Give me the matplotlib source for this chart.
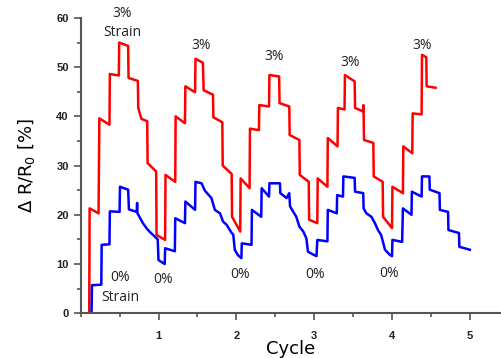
import matplotlib.pyplot as plt
from matplotlib.ticker import MultipleLocator

# red: 3% strain trace, blue: 0% strain trace
red_cycle = [0.00, 0.11, 0.115, 0.23, 0.24, 0.37, 0.375, 0.49, 0.495, 0.61,
             0.615, 0.735, 0.74, 0.78, 0.855, 0.86, 0.97, 0.975, 1.085,
             1.09, 1.215, 1.22, 1.34, 1.345, 1.47, 1.475, 1.57, 1.58, 1.70,
             1.705, 1.82, 1.825, 1.94, 1.945, 2.05, 2.055, 2.17, 2.175, 2.29,
             2.295, 2.42, 2.425, 2.55, 2.555, 2.68, 2.685, 2.81, 2.815, 2.93,
             2.935, 3.04, 3.045, 3.17, 3.175, 3.30, 3.305, 3.39, 3.395, 3.52,
             3.525, 3.63, 3.633, 3.64, 3.76, 3.765, 3.88, 3.885, 4.00,
             4.005, 4.14, 4.145, 4.26, 4.265, 4.38, 4.385, 4.44, 4.445, 4.56]
red_dr = [0.0, 0.0, 21.3, 20.3, 39.6, 38.3, 48.6, 48.3, 55.0, 54.3,
          47.8, 47.2, 41.7, 39.5, 39.0, 30.5, 28.8, 15.9, 14.9,
          28.1, 26.7, 40.0, 38.6, 46.1, 44.9, 51.7, 50.9, 45.3, 44.4,
          39.8, 38.8, 30.0, 28.3, 19.6, 16.6, 27.4, 25.4, 37.5, 37.2,
          42.3, 42.0, 48.4, 48.1, 42.7, 42.0, 36.2, 35.2, 28.1, 26.7,
          19.0, 18.3, 27.4, 25.7, 35.6, 33.9, 41.7, 41.4, 48.4, 47.1,
          41.7, 41.0, 42.3, 35.2, 34.6, 27.8, 26.7, 19.6, 17.3,
          25.7, 24.4, 33.9, 32.5, 40.6, 40.4, 52.5, 52.0, 46.1, 45.8]

blue_cycle = [0.14, 0.145, 0.265, 0.27, 0.37, 0.375, 0.50, 0.505, 0.61,
              0.62, 0.72, 0.725, 0.73, 0.80, 0.85, 0.89, 0.95, 0.99,
              1.00, 1.08, 1.085, 1.21,
              1.215, 1.34, 1.345, 1.47, 1.475, 1.553, 1.596, 1.68, 1.724,
              1.79, 1.83, 1.874, 1.94, 1.96, 1.98, 2.02, 2.065,
              2.07, 2.195, 2.20, 2.32, 2.325, 2.42, 2.425, 2.56, 2.565,
              2.645, 2.68, 2.69, 2.77, 2.81, 2.86, 2.90, 2.92, 2.99, 3.03,
              3.04, 3.17, 3.175, 3.29, 3.295, 3.37, 3.375, 3.52, 3.525,
              3.63, 3.635, 3.67, 3.735, 3.78, 3.82, 3.86, 3.91, 3.97, 4.00,
              4.005, 4.13, 4.14, 4.25, 4.255, 4.38, 4.385, 4.48, 4.485,
              4.61, 4.615, 4.72, 4.725, 4.86, 4.865, 5.00]
blue_dr = [0.0, 5.7, 5.8, 13.9, 14.0, 20.7, 20.6, 25.7, 25.1,
           21.1, 20.6, 22.4, 20.3, 18.3, 17.2, 16.5, 15.6, 15.0,
           10.8, 10.0, 13.2, 12.6,
           19.3, 18.3, 22.7, 21.0, 26.7, 26.4, 24.9, 23.4, 21.0,
           20.3, 18.6, 18.0, 16.3, 16.0, 12.9, 11.8, 11.2,
           14.2, 13.9, 21.0, 19.6, 25.4, 23.7, 26.4, 26.4, 24.4,
           23.4, 24.4, 21.7, 19.6, 17.6, 16.6, 15.2, 12.5, 11.9, 11.6,
           14.9, 14.6, 21.0, 20.3, 24.0, 23.7, 27.8, 27.5, 24.7,
           24.4, 21.3, 20.3, 19.6, 18.3, 16.9, 15.9, 12.9, 11.9, 11.6,
           14.9, 14.5, 21.3, 20.0, 24.7, 23.7, 27.8, 27.8, 25.1,
           24.4, 21.0, 20.6, 16.9, 16.3, 13.5, 12.9]

# strain labels
top_x = [0.53, 1.55, 2.49, 3.46, 4.39]
top_y = [60.8, 54.3, 52.2, 50.9, 54.3]
bottom_x = [0.51, 1.06, 2.045, 3.01, 3.96]
bottom_y = [7.2, 6.8, 7.9, 7.8, 8.1]

fig = plt.figure(figsize=(5.01, 3.58), dpi=100)
ax = fig.add_axes([0.161, 0.125, 0.839, 0.825])

ax.plot(red_cycle, red_dr, color='#ff0000', lw=1.8)
ax.plot(blue_cycle, blue_dr, color='#0000ff', lw=1.8)

for x, y in zip(top_x, top_y):
    ax.text(x, y, '3%', ha='center', va='center', fontsize=10,
            family='Open Sans', color='#222222')
ax.text(top_x[0], 57.0, 'Strain', ha='center', va='center', fontsize=10,
        family='Open Sans', color='#222222')
for x, y in zip(bottom_x, bottom_y):
    ax.text(x, y, '0%', ha='center', va='center', fontsize=10,
            family='Open Sans', color='#222222')
ax.text(bottom_x[0], 3.25, 'Strain', ha='center', va='center', fontsize=10,
        family='Open Sans', color='#222222')

ax.set_xlim(0, 5.4)
ax.set_ylim(0, 60)
ax.xaxis.set_major_locator(MultipleLocator(1))
ax.xaxis.set_minor_locator(MultipleLocator(0.5))
ax.yaxis.set_major_locator(MultipleLocator(10))
ax.yaxis.set_minor_locator(MultipleLocator(5))
ax.set_xticks([1, 2, 3, 4, 5])

for s in ['top', 'right']:
    ax.spines[s].set_visible(False)
for s in ['left', 'bottom']:
    ax.spines[s].set_color('#555555')
    ax.spines[s].set_linewidth(1.5)

ax.tick_params(which='both', direction='out', color='#555555', width=1.2)
ax.tick_params(which='major', length=5, labelsize=8, labelcolor='#222222')
ax.tick_params(which='minor', length=3)
ax.tick_params(axis='x', which='major', pad=8)
for lab in ax.get_xticklabels() + ax.get_yticklabels():
    lab.set_fontweight('bold')
    lab.set_family('Liberation Sans')

ax.set_xlabel('Cycle', fontsize=13, labelpad=-1)
ax.set_ylabel('Δ R/R$_0$ [%]', fontsize=13, labelpad=14)

fig.savefig('out.png', dpi=100)
